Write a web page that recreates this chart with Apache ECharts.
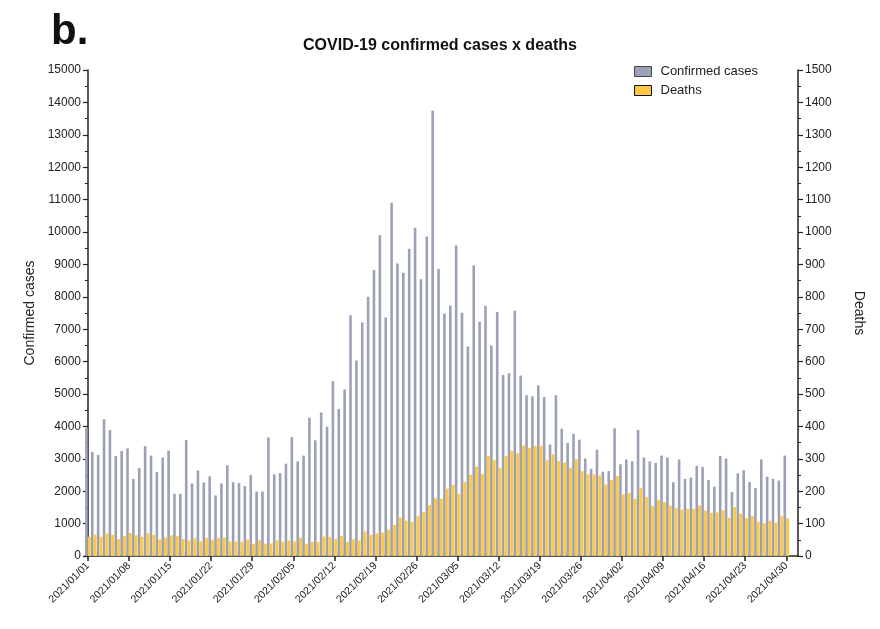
<!DOCTYPE html>
<html>
<head>
<meta charset="utf-8">
<script src="https://cdn.jsdelivr.net/npm/echarts@6/dist/echarts.min.js"></script>
<style>
html,body{margin:0;padding:0;background:#fff;}
#c{width:880px;height:629px;}
</style>
</head>
<body>
<div id="c"></div>
<script>
const dates = [
'2021/01/01','2021/01/02','2021/01/03','2021/01/04','2021/01/05','2021/01/06','2021/01/07','2021/01/08','2021/01/09','2021/01/10',
'2021/01/11','2021/01/12','2021/01/13','2021/01/14','2021/01/15','2021/01/16','2021/01/17','2021/01/18','2021/01/19','2021/01/20',
'2021/01/21','2021/01/22','2021/01/23','2021/01/24','2021/01/25','2021/01/26','2021/01/27','2021/01/28','2021/01/29','2021/01/30',
'2021/01/31','2021/02/01','2021/02/02','2021/02/03','2021/02/04','2021/02/05','2021/02/06','2021/02/07','2021/02/08','2021/02/09',
'2021/02/10','2021/02/11','2021/02/12','2021/02/13','2021/02/14','2021/02/15','2021/02/16','2021/02/17','2021/02/18','2021/02/19',
'2021/02/20','2021/02/21','2021/02/22','2021/02/23','2021/02/24','2021/02/25','2021/02/26','2021/02/27','2021/02/28','2021/03/01',
'2021/03/02','2021/03/03','2021/03/04','2021/03/05','2021/03/06','2021/03/07','2021/03/08','2021/03/09','2021/03/10','2021/03/11',
'2021/03/12','2021/03/13','2021/03/14','2021/03/15','2021/03/16','2021/03/17','2021/03/18','2021/03/19','2021/03/20','2021/03/21',
'2021/03/22','2021/03/23','2021/03/24','2021/03/25','2021/03/26','2021/03/27','2021/03/28','2021/03/29','2021/03/30','2021/03/31',
'2021/04/01','2021/04/02','2021/04/03','2021/04/04','2021/04/05','2021/04/06','2021/04/07','2021/04/08','2021/04/09','2021/04/10',
'2021/04/11','2021/04/12','2021/04/13','2021/04/14','2021/04/15','2021/04/16','2021/04/17','2021/04/18','2021/04/19','2021/04/20',
'2021/04/21','2021/04/22','2021/04/23','2021/04/24','2021/04/25','2021/04/26','2021/04/27','2021/04/28','2021/04/29','2021/04/30'
];

const confirmedCases = [
3950,3210,3120,4220,3890,3090,3240,3320,2380,2720,
3390,3100,2590,3040,3250,1920,1920,3580,2240,2640,
2270,2460,1870,2240,2800,2280,2250,2160,2500,1990,
1990,3660,2520,2560,2850,3670,2920,3100,4270,3570,
4430,3990,5400,4540,5140,7430,6030,7210,8000,8830,
9910,7360,10900,9030,8740,9480,10130,8540,9860,13740,
8860,7480,7730,9580,7510,6470,8970,7230,7720,6500,
7530,5590,5640,7570,5570,4960,4930,5270,4910,3440,
4960,3930,3490,3770,3590,3010,2690,3280,2600,2620,
3940,2830,2980,2920,3890,3040,2920,2870,3100,3040,
2280,2980,2380,2420,2780,2750,2350,2140,3090,3010,
1970,2550,2650,2280,2100,2980,2450,2380,2330,3100
];

const deaths = [
59,66,59,70,65,52,62,71,64,59,
70,65,51,57,64,62,52,48,55,46,
56,50,56,56,45,45,44,51,38,49,
38,39,48,44,48,45,56,38,44,43,
60,59,52,62,44,52,48,76,65,70,
72,81,96,119,109,105,123,136,157,178,
177,208,220,192,228,251,276,253,309,296,
272,309,325,317,341,334,340,340,296,314,
293,288,272,299,262,252,252,248,221,235,
247,190,194,177,209,182,154,173,167,156,
148,143,145,145,156,140,133,135,141,118,
151,131,116,123,106,101,109,103,123,116
];

const tickLabels = ['2021/01/01','2021/01/08','2021/01/15','2021/01/22','2021/01/29','2021/02/05','2021/02/12','2021/02/19','2021/02/26',
'2021/03/05','2021/03/12','2021/03/19','2021/03/26','2021/04/02','2021/04/09','2021/04/16','2021/04/23','2021/04/30'];
const tickIndex = tickLabels.map(d => dates.indexOf(d));

const GRAY = '#9ca2b6';
const YELLOW = '#fec847';
const FONT = 'Liberation Sans, Arial, sans-serif';
const AX = '#222';

const chart = echarts.init(document.getElementById('c'), null, {renderer: 'canvas'});
chart.setOption({
  animation: false,
  backgroundColor: '#fff',
  textStyle: {fontFamily: FONT},
  title: {
    text: 'COVID-19 confirmed cases x deaths',
    left: 'center', top: 33,
    textStyle: {fontSize: 16, fontWeight: 'bold', color: '#111', fontFamily: FONT}
  },
  graphic: [{
    type: 'text', left: 51, top: 11,
    style: {text: 'b.', font: 'bold 42px ' + FONT, fill: '#111'}
  }],
  legend: {
    orient: 'vertical', left: 629, top: 60, itemGap: 6,
    itemWidth: 17, itemHeight: 10, icon: 'rect',
    textStyle: {fontSize: 13, color: '#222', fontFamily: FONT, padding: [0, 0, 0, 4]},
    data: [
      {name: 'Confirmed cases', itemStyle: {color: GRAY, borderColor: '#444', borderWidth: 1}},
      {name: 'Deaths', itemStyle: {color: YELLOW, borderColor: '#111', borderWidth: 1}}
    ]
  },
  grid: {left: 85, right: 82, top: 70, bottom: 73},
  xAxis: {
    type: 'value', min: -0.5, max: 121,
    splitLine: {show: false},
    axisLine: {show: true, lineStyle: {color: AX, width: 1.5}},
    axisTick: {show: true, customValues: tickIndex, length: 5, lineStyle: {color: AX, width: 1.5}},
    axisLabel: {
      customValues: tickIndex, rotate: 45, fontSize: 10.5, color: '#222', margin: 8,
      formatter: v => dates[Math.round(v)] || ''
    }
  },
  yAxis: [{
    type: 'value', position: 'left', min: 0, max: 15000, interval: 1000,
    name: 'Confirmed cases', nameLocation: 'middle', nameGap: 48,
    nameTextStyle: {fontSize: 14, color: '#222'},
    splitLine: {show: false},
    axisLine: {show: true, lineStyle: {color: AX, width: 1.5}},
    axisTick: {show: true, length: 5, lineStyle: {color: AX, width: 1.2}},
    minorTick: {show: true, splitNumber: 2, length: 3, lineStyle: {color: AX, width: 1}},
    axisLabel: {fontSize: 12, color: '#222', margin: 4, formatter: v => String(v)}
  }, {
    type: 'value', position: 'right', min: 0, max: 1500, interval: 100,
    name: 'Deaths', nameLocation: 'middle', nameGap: 54, nameRotate: -90,
    nameTextStyle: {fontSize: 14, color: '#222'},
    splitLine: {show: false},
    axisLine: {show: true, lineStyle: {color: AX, width: 1.5}},
    axisTick: {show: true, length: 5, lineStyle: {color: AX, width: 1.2}},
    minorTick: {show: true, splitNumber: 2, length: 3, lineStyle: {color: AX, width: 1}},
    axisLabel: {fontSize: 12, color: '#222', margin: 7, formatter: v => String(v)}
  }],
  series: [{
    name: 'Confirmed cases', type: 'bar', yAxisIndex: 0,
    data: confirmedCases.map((v, i) => [i, v]),
    barWidth: 2.6, barGap: '0%',
    itemStyle: {color: GRAY}
  }, {
    name: 'Deaths', type: 'bar', yAxisIndex: 1,
    data: deaths.map((v, i) => [i, v]),
    barWidth: 3, barGap: '0%',
    itemStyle: {color: YELLOW}
  }]
});
</script>
</body>
</html>
